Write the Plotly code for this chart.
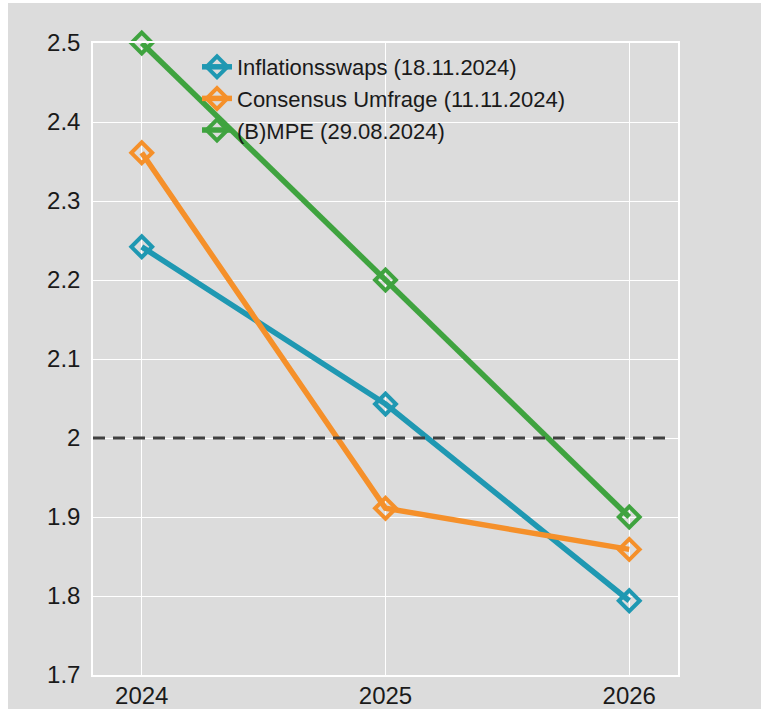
import plotly.graph_objects as go

years = [2024, 2025, 2026]
swaps = [2.242, 2.043, 1.794]
consensus = [2.361, 1.911, 1.859]
bmpe = [2.5, 2.2, 1.9]
names = ["Inflationsswaps (18.11.2024)", "Consensus Umfrage (11.11.2024)", "(B)MPE (29.08.2024)"]
colors = ["#1f98b2", "#f5902a", "#3fa33f"]
target_x = [2023.8, 2026.16]
target_y = [2.0, 2.0]
yticks = [1.7, 1.8, 1.9, 2.0, 2.1, 2.2, 2.3, 2.4, 2.5]
yticktext = ["1.7", "1.8", "1.9", "2", "2.1", "2.2", "2.3", "2.4", "2.5"]

W, H = 761, 709
L, R, T, B = 93, 83, 43, 34
BG = "#dcdcdc"

fig = go.Figure()
for vals, name, col in zip([swaps, consensus, bmpe], names, colors):
    fig.add_trace(go.Scatter(
        x=years, y=vals, name=name, mode="lines+markers", cliponaxis=False,
        line=dict(color=col, width=5.5),
        marker=dict(symbol="diamond-open", size=16, color=col, line=dict(width=4, color=col)),
    ))
fig.add_trace(go.Scatter(
    x=target_x, y=target_y, mode="lines", showlegend=False, hoverinfo="skip",
    line=dict(color="#404040", width=3, dash="12px,8px"),
))

pw = W - L - R
ph = H - T - B

# white strips at the top and left edge of the picture
fig.add_shape(type="rect", xref="paper", yref="paper", layer="below",
              x0=-L / pw, x1=(W - L) / pw, y0=(H - B - 3) / ph, y1=(H - B) / ph,
              fillcolor="white", line_width=0)
fig.add_shape(type="rect", xref="paper", yref="paper", layer="below",
              x0=-L / pw, x1=(-L + 8) / pw, y0=-B / ph, y1=(H - B) / ph,
              fillcolor="white", line_width=0)

fig.update_layout(
    width=W, height=H,
    margin=dict(l=L, r=R, t=T, b=B, autoexpand=False),
    paper_bgcolor=BG, plot_bgcolor=BG,
    font=dict(family="Liberation Sans, Arial, sans-serif", color="#1a1a1a"),
    legend=dict(x=(197 - L) / pw, y=1 - (46 - T) / ph, xanchor="left", yanchor="top",
                bgcolor="rgba(0,0,0,0)", font=dict(size=22), tracegroupgap=0,
                itemwidth=30),
    xaxis=dict(range=[2023.8, 2026.2], tickvals=years, ticktext=[str(y) for y in years],
               showgrid=True, gridcolor="white", gridwidth=1, zeroline=False,
               showline=True, linecolor="white", linewidth=1.5, mirror=True,
               tickfont=dict(size=24), ticks="", ticklabelstandoff=-2, automargin=False),
    yaxis=dict(range=[1.7, 2.5], tickvals=yticks, ticktext=yticktext,
               showgrid=True, gridcolor="white", gridwidth=1, zeroline=False,
               showline=True, linecolor="white", linewidth=1.5, mirror=True,
               tickfont=dict(size=24), ticks="", ticklabelstandoff=6, automargin=False),
    showlegend=True,
)

fig.write_html(
    "out.html",
    config={"displayModeBar": False},
    post_script="document.body.style.margin='0';document.body.style.overflow='hidden';",
)
